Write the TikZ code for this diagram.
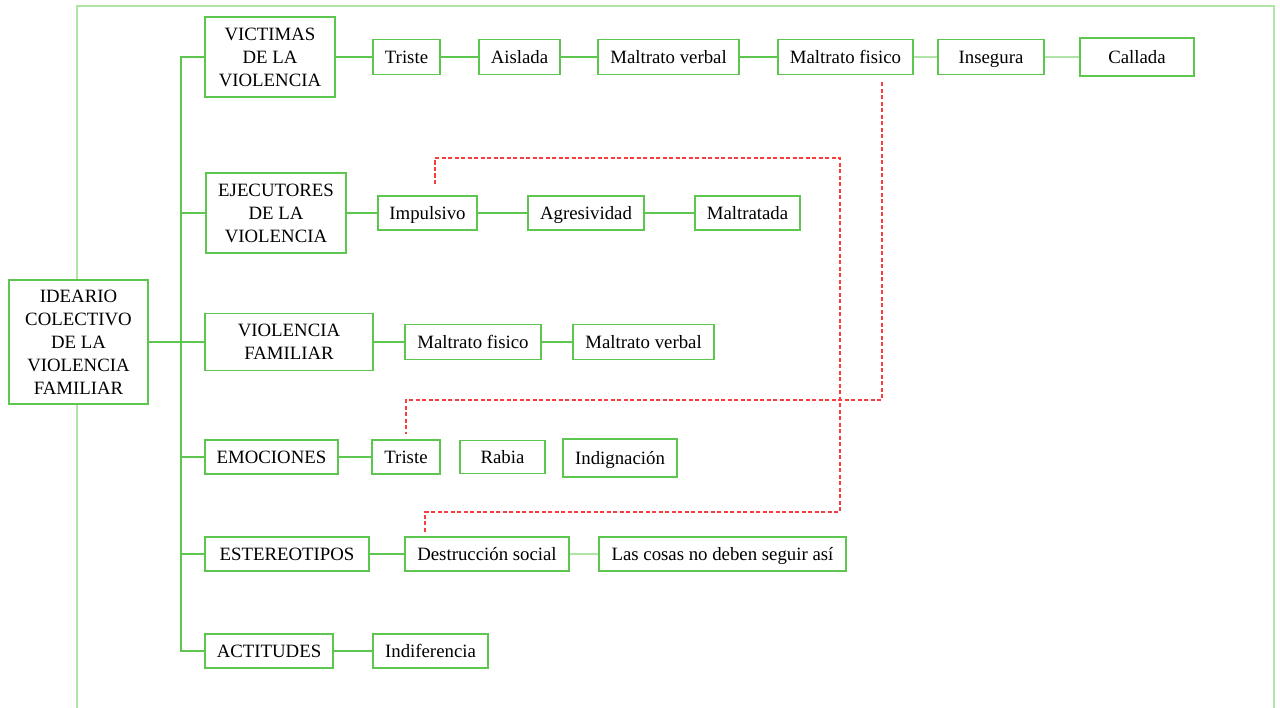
\documentclass[tikz,border=0pt]{standalone}
\usepackage{fontspec}
\setmainfont{Liberation Serif}
\usetikzlibrary{positioning}
\definecolor{boxgreen}{RGB}{92,198,78}
\definecolor{palegreen}{RGB}{176,228,166}
\definecolor{linkred}{RGB}{250,60,60}

\begin{document}
\begin{tikzpicture}[
    x = 0.02cm,
    y = -0.02cm,
    box/.style={draw=boxgreen, fill=white, line width=1.1pt, inner sep=1pt,
        minimum height=34*0.02cm, align=center,
        font=\fontsize{10.7}{13.1}\selectfont},
    leaf/.style={box, text height=1.9ex, text depth=0.2ex},
    bw/.style={minimum width=#1*0.02cm},
    bh/.style={minimum height=#1*0.02cm},
    branch/.style={draw=boxgreen, line width=1.5pt},
    thinlink/.style={draw=palegreen, line width=1pt},
    cross/.style={draw=linkred, line width=1.1pt, dash pattern=on 2.4pt off 1.3pt}
]
    \useasboundingbox (0,0) rectangle (1280,707);

    % outer frame
    \draw[palegreen, line width=1pt] (77,715) -- (77,6) -- (1274,6) -- (1274,715);

    % main column
    \node[box, bw=139, bh=124] (ideario) at (78.5,342) {IDEARIO\\COLECTIVO\\DE LA\\VIOLENCIA\\FAMILIAR};
    \node[box, bw=130, bh=80] (victimas) at (270,57) {VICTIMAS\\DE LA\\VIOLENCIA};
    \node[box, bw=140, bh=80] (ejecutores) at (276,213) {EJECUTORES\\DE LA\\VIOLENCIA};
    \node[box, bw=168, bh=57] (violfam) at (289,342) {VIOLENCIA\\FAMILIAR};
    \node[leaf, bw=133] (emociones) at (271.5,457) {EMOCIONES};
    \node[leaf, bw=164] (estereotipos) at (287,554) {ESTEREOTIPOS};
    \node[leaf, bw=128] (actitudes) at (269,651) {ACTITUDES};
    \coordinate (tr) at (181,342);

    % victimas
    \node[leaf, bw=67, bh=35] (v1) at (406.5,57) {Triste};
    \node[leaf, bw=81, bh=35] (v2) at (519.5,57) {Aislada};
    \node[leaf, bw=141, bh=35] (v3) at (668.5,57) {Maltrato verbal};
    \node[leaf, bw=135, bh=35] (v4) at (845.5,57) {Maltrato fisico};
    \node[leaf, bw=106, bh=35] (v5) at (991,57) {Insegura};
    \node[leaf, bw=114, bh=38] (v6) at (1137,57) {Callada};

    % ejecutores
    \node[leaf, bw=99] (e1) at (427.5,213) {Impulsivo};
    \node[leaf, bw=116] (e2) at (586,213) {Agresividad};
    \node[leaf, bw=105] (e3) at (747.5,213) {Maltratada};

    % violencia familiar
    \node[leaf, bw=136, bh=35] (f1) at (473,342) {Maltrato fisico};
    \node[leaf, bw=141, bh=35] (f2) at (643.5,342) {Maltrato verbal};

    % emociones
    \node[leaf, bw=68] (m1) at (406,457) {Triste};
    \node[leaf, bw=85, bh=33] (m2) at (502.5,457) {Rabia};
    \node[leaf, bw=114, bh=38] (m3) at (620,458) {Indignación};

    % estereotipos
    \node[leaf, bw=164] (s1) at (487,554) {Destrucción social};
    \node[leaf, bw=247] (s2) at (722.5,554) {Las cosas no deben seguir así};

    % actitudes
    \node[leaf, bw=115] (a1) at (430.5,651) {Indiferencia};

    % tree
    \draw[branch] (ideario) -- (violfam);
    \draw[branch] (victimas.west) -- (victimas.west -| tr) -- (actitudes.west -| tr) -- (actitudes.west);
    \foreach \n in {ejecutores, emociones, estereotipos}
        \draw[branch] (\n.west) -- (\n.west -| tr);

    \draw[branch] (victimas) -- (v1) -- (v2) -- (v3) -- (v4);
    \draw[thinlink] (v4) -- (v5) -- (v6);
    \draw[branch] (ejecutores) -- (e1) -- (e2) -- (e3);
    \draw[branch] (violfam) -- (f1) -- (f2);
    \draw[branch] (emociones) -- (m1);
    \draw[branch] (estereotipos) -- (s1);
    \draw[thinlink] (s1) -- (s2);
    \draw[branch] (actitudes) -- (a1);

    % red links
    \coordinate (r1a) at (435,184);
    \coordinate (r1b) at (425,532);
    \coordinate (r2a) at (882,82);
    \coordinate (r2b) at (406,434);
    \draw[cross] (r1a) -- (435,158) -- (840,158) -- (840,512) -- (425,512) -- (r1b);
    \draw[cross] (r2a) -- (882,400) -- (406,400) -- (r2b);
\end{tikzpicture}
\end{document}
